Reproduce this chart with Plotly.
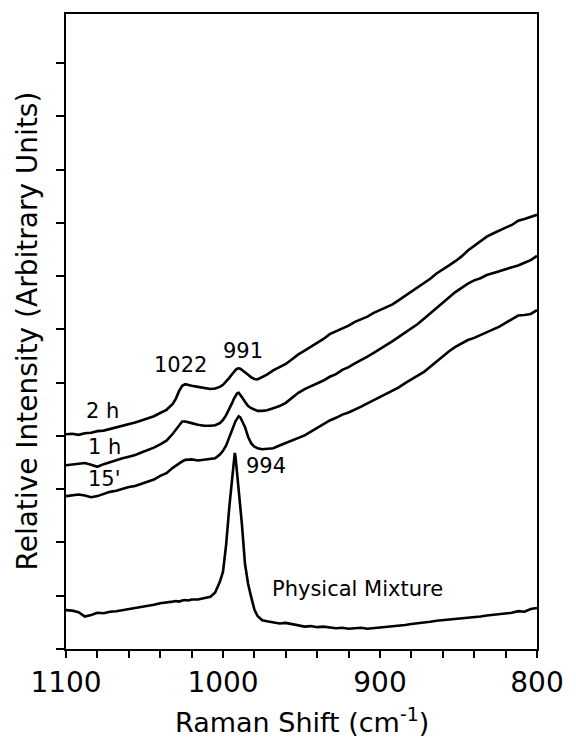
import plotly.graph_objects as go

# Raman shift sampling positions (cm^-1)
shift = [1100, 1096, 1092, 1088, 1084, 1080, 1076, 1072, 1068, 1064, 1060, 1056, 1052, 1048, 1044, 1040, 1036, 1032,
         1030, 1028, 1026, 1024, 1022, 1020,
         1016, 1012, 1008,
         1005, 1002, 1000, 998, 996,
         995, 994, 993, 992.5, 992, 991, 990, 989, 988,
         986, 984, 982, 980, 978,
         975, 972,
         968, 964, 960, 956, 952, 948, 944, 940, 936, 932,
         928, 924, 920, 916, 912, 908, 904, 900, 896, 892,
         888, 884, 880, 876, 872, 868, 864, 860, 856, 852,
         848, 844, 840, 836, 832, 828, 824, 820, 816, 812,
         808, 804, 800]

physical_mixture = [0.73, 0.72, 0.69, 0.61, 0.64, 0.68, 0.67, 0.70, 0.71, 0.73, 0.74, 0.77, 0.78, 0.81, 0.83, 0.86, 0.87, 0.89,
                    0.90, 0.89, 0.91, 0.92, 0.91, 0.93,
                    0.93, 0.95, 0.98,
                    1.06, 1.26, 1.45, 1.96, 2.66,
                    2.98, 3.29, 3.55, 3.68, 3.60, 3.29, 3.00, 2.70, 2.36,
                    1.60, 1.22, 0.97, 0.74, 0.62,
                    0.54, 0.52,
                    0.50, 0.48, 0.49, 0.47, 0.44, 0.42, 0.43, 0.41, 0.42, 0.40,
                    0.39, 0.40, 0.38, 0.39, 0.40, 0.38, 0.39, 0.40, 0.41, 0.42,
                    0.44, 0.45, 0.47, 0.48, 0.50, 0.51, 0.53, 0.54, 0.56, 0.57,
                    0.58, 0.59, 0.60, 0.61, 0.63, 0.64, 0.66, 0.67, 0.68, 0.71,
                    0.70, 0.75, 0.77]

min15 = [2.87, 2.89, 2.90, 2.88, 2.85, 2.87, 2.91, 2.95, 2.97, 3.01, 3.04, 3.06, 3.10, 3.13, 3.18, 3.25, 3.30, 3.40,
         3.44, 3.49, 3.52, 3.55, 3.55, 3.56,
         3.54, 3.55, 3.56,
         3.58, 3.65, 3.72, 3.82, 3.96,
         4.04, 4.12, 4.20, 4.24, 4.28, 4.33, 4.37, 4.35, 4.29,
         4.17, 3.98, 3.86, 3.80, 3.77,
         3.75, 3.76,
         3.77, 3.82, 3.87, 3.92, 3.97, 4.01, 4.08, 4.15, 4.22, 4.29,
         4.34, 4.40, 4.44, 4.49, 4.55, 4.61, 4.67, 4.72, 4.79, 4.85,
         4.91, 4.99, 5.06, 5.14, 5.20, 5.30, 5.40, 5.49, 5.59, 5.67,
         5.74, 5.80, 5.84, 5.89, 5.94, 5.99, 6.05, 6.12, 6.19, 6.26,
         6.27, 6.29, 6.36]

hour1 = [3.45, 3.46, 3.47, 3.49, 3.46, 3.42, 3.47, 3.51, 3.54, 3.58, 3.61, 3.64, 3.69, 3.73, 3.78, 3.84, 3.91, 4.04,
         4.12, 4.21, 4.27, 4.27, 4.25, 4.24,
         4.21, 4.19, 4.19,
         4.20, 4.24, 4.30, 4.39, 4.50,
         4.57, 4.63, 4.70, 4.73, 4.76, 4.80, 4.81, 4.78, 4.73,
         4.64, 4.56, 4.52, 4.49, 4.47,
         4.47, 4.48,
         4.52, 4.56, 4.62, 4.72, 4.81, 4.88, 4.93, 4.98, 5.04, 5.11,
         5.16, 5.24, 5.29, 5.36, 5.42, 5.49, 5.56, 5.63, 5.70, 5.78,
         5.86, 5.94, 6.02, 6.10, 6.20, 6.30, 6.39, 6.50, 6.60, 6.70,
         6.78, 6.86, 6.92, 6.96, 7.02, 7.05, 7.09, 7.13, 7.16, 7.20,
         7.25, 7.30, 7.38]

hour2 = [4.03, 4.04, 4.02, 4.05, 4.06, 4.09, 4.10, 4.13, 4.15, 4.19, 4.22, 4.25, 4.29, 4.33, 4.37, 4.43, 4.49, 4.60,
         4.70, 4.84, 4.94, 4.97, 4.95, 4.94,
         4.92, 4.90, 4.88,
         4.89, 4.92, 4.96, 5.02, 5.09,
         5.13, 5.17, 5.21, 5.23, 5.24, 5.26, 5.27, 5.26, 5.24,
         5.20, 5.15, 5.10, 5.07, 5.06,
         5.10, 5.15,
         5.23, 5.29, 5.35, 5.44, 5.53, 5.60, 5.67, 5.74, 5.82, 5.91,
         5.96, 6.02, 6.07, 6.14, 6.19, 6.24, 6.31, 6.36, 6.41, 6.47,
         6.55, 6.63, 6.71, 6.80, 6.88, 6.95, 7.05, 7.12, 7.20, 7.28,
         7.37, 7.48, 7.57, 7.65, 7.74, 7.80, 7.86, 7.91, 7.96, 8.04,
         8.07, 8.11, 8.15]

series = [physical_mixture, min15, hour1, hour2]
for s in series:
    assert len(s) == len(shift), len(s)

# labels
label_text = ["1022", "991", "2 h", "1 h", "15'", "994", "Physical Mixture"]
label_x = [1026.8, 987.3, 1076.7, 1075.7, 1075.7, 972.8, 914.3]
label_y = [5.33, 5.60, 4.46, 3.79, 3.20, 3.43, 1.12]

x_title = "Raman Shift (cm<sup>-1</sup>)"
y_title = "Relative Intensity (Arbitrary Units)"

x_tick_vals = [1100, 1000, 900, 800]
x_tick_text = ["1100", "1000", "900", "800"]
y_tick_vals = list(range(0, 12))

FONT = "DejaVu Sans"

fig = go.Figure()
for s in series:
    fig.add_trace(go.Scatter(x=shift, y=s, mode="lines",
                             line=dict(color="black", width=2.6),
                             showlegend=False, hoverinfo="skip"))

for t, x, y in zip(label_text, label_x, label_y):
    fig.add_annotation(x=x, y=y, text=t, showarrow=False,
                       font=dict(family=FONT, size=21, color="black"),
                       xanchor="center", yanchor="middle")

# axis titles
fig.add_annotation(xref="paper", yref="paper", x=0.5, y=0, text=x_title, showarrow=False,
                   font=dict(family=FONT, size=27, color="black"),
                   xanchor="center", yanchor="middle", yshift=-71)
fig.add_annotation(xref="paper", yref="paper", x=0, y=0.5, text=y_title, showarrow=False,
                   textangle=-90, font=dict(family=FONT, size=28, color="black"),
                   xanchor="center", yanchor="middle", xshift=-39)

fig.update_layout(
    width=576, height=739,
    margin=dict(l=66, r=29, t=13, b=90),
    paper_bgcolor="white", plot_bgcolor="white",
    font=dict(family=FONT, color="black"),
    xaxis=dict(
        range=[1100, 800],
        tickvals=x_tick_vals, ticktext=x_tick_text,
        ticks="outside", ticklen=7, tickwidth=2, tickcolor="black",
        minor=dict(dtick=20, tick0=800, ticks="outside", ticklen=7, tickwidth=2, tickcolor="black"),
        showline=True, linewidth=2, linecolor="black", mirror=True,
        showgrid=False, zeroline=False,
        tickfont=dict(family=FONT, size=28, color="black"),
    ),
    yaxis=dict(
        range=[0, 11.92],
        tickvals=y_tick_vals, showticklabels=False,
        ticks="outside", ticklen=8, tickwidth=2, tickcolor="black",
        showline=True, linewidth=2, linecolor="black", mirror=True,
        showgrid=False, zeroline=False,
    ),
)

fig.write_html("out.html")
